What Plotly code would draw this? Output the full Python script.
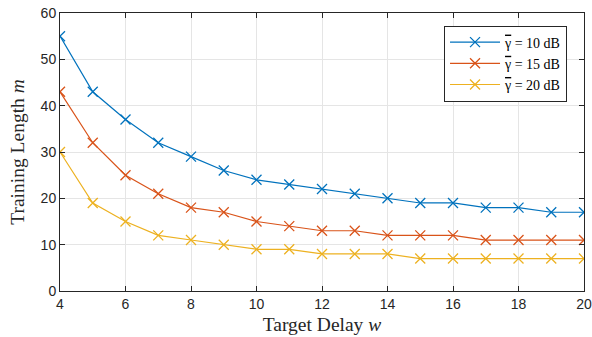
import plotly.graph_objects as go

delay = list(range(4, 21))
m_10db = [55, 43, 37, 32, 29, 26, 24, 23, 22, 21, 20, 19, 19, 18, 18, 17, 17]
m_15db = [43, 32, 25, 21, 18, 17, 15, 14, 13, 13, 12, 12, 12, 11, 11, 11, 11]
m_20db = [30, 19, 15, 12, 11, 10, 9, 9, 8, 8, 8, 7, 7, 7, 7, 7, 7]
series_names = [
    '<span style="text-decoration:overline">γ</span> = 10 dB',
    '<span style="text-decoration:overline">γ</span> = 15 dB',
    '<span style="text-decoration:overline">γ</span> = 20 dB',
]
colors = ["#0072BD", "#D95319", "#EDB120"]

fig = go.Figure()
for name, vals, c in zip(series_names, [m_10db, m_15db, m_20db], colors):
    fig.add_trace(go.Scatter(
        x=delay, y=vals, name=name, mode="lines+markers",
        line=dict(color=c, width=1.2),
        marker=dict(symbol="x-thin", size=10, line=dict(color=c, width=1.3)),
    ))

axis_common = dict(
    showline=True, linecolor="#262626", linewidth=1, mirror="ticks",
    ticks="inside", ticklen=5, tickcolor="#262626",
    showgrid=True, gridcolor="#e5e5e5", gridwidth=1, zeroline=False,
    tickfont=dict(family="Liberation Sans, Arial", size=14, color="#262626"),
)
fig.update_xaxes(range=[4, 20], tickvals=list(range(4, 21, 2)),
                 title=dict(text="Target Delay <i>w</i>", font=dict(family="Liberation Serif", size=19.5, color="#262626"), standoff=6),
                 automargin=False, **axis_common)
fig.update_yaxes(range=[0, 60], tickvals=list(range(0, 61, 10)),
                 title=dict(text="Training Length <i>m</i>", font=dict(family="Liberation Serif", size=19.5, color="#262626"), standoff=10),
                 automargin=False, **axis_common)

fig.update_layout(
    width=592, height=337,
    margin=dict(l=60, r=8, t=13, b=46),
    plot_bgcolor="white", paper_bgcolor="white",
    legend=dict(x=0.9676, y=0.955, xanchor="right", yanchor="top",
                bordercolor="#262626", borderwidth=1, bgcolor="white",
                font=dict(family="Liberation Serif", size=14, color="#000000"),
                tracegroupgap=0, itemwidth=50),
)
fig.write_html("out.html", config={"displayModeBar": False},
               post_script="document.body.style.margin='0';")
